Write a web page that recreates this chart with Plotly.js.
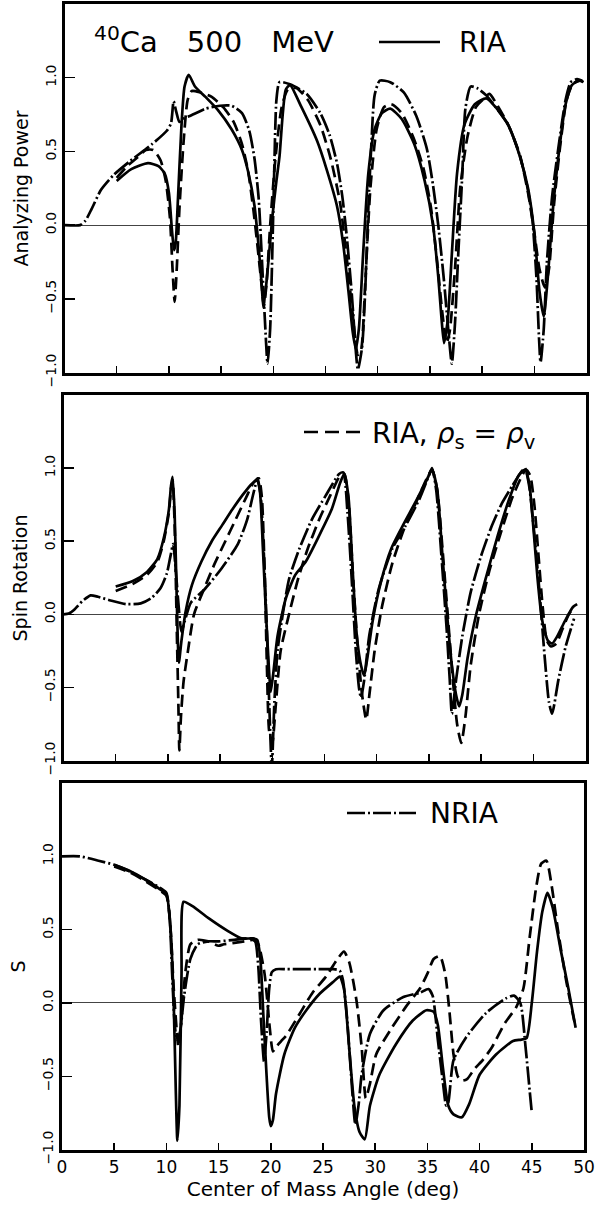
<!DOCTYPE html>
<html><head><meta charset="utf-8">
<script src="https://cdn.plot.ly/plotly-3.0.1.min.js"></script>
<style>html,body{margin:0;padding:0;background:#fff}#chart{width:595px;height:1213px}</style>
</head><body><div id="chart"></div>
<script>
// ---------------- Panel 1: Analyzing Power ----------------
const ap_nria_x = [0,1.5,2,2.6,3.5,4.7,6.2,8.4,9.8,10.2,10.45,10.7,11.0,11.3,12.0,13.5,14.9,16.0,17.0,17.7,18.2,18.6,18.9,19.2,19.45,19.7,19.9,20.1,20.3,20.6,21.6,23.2,24.5,25.4,26.1,26.6,27.0,27.5,27.9,28.1,28.5,28.8,29.1,29.4,29.7,30.2,31.2,32.5,33.7,34.7,35.3,35.8,36.3,36.8,37.1,37.4,37.7,38.1,38.4,38.9,39.5,40.4,41.3,42.5,43.6,44.3,44.8,45.2,45.6,45.9,46.2,46.7,47.3,48.0,48.5,49.1,49.6];
const ap_nria_y = [0,0,0.03,0.11,0.24,0.34,0.43,0.55,0.64,0.69,0.84,0.77,0.70,0.72,0.74,0.79,0.81,0.81,0.76,0.64,0.45,0.18,-0.22,-0.65,-0.94,-0.70,-0.20,0.40,0.85,0.97,0.955,0.89,0.76,0.61,0.42,0.2,-0.05,-0.45,-0.85,-0.98,-0.83,-0.45,0.11,0.56,0.88,0.98,0.97,0.90,0.74,0.52,0.27,0.0,-0.34,-0.74,-0.94,-0.67,-0.22,0.34,0.79,0.94,0.93,0.88,0.80,0.68,0.475,0.27,0.05,-0.35,-0.93,-0.71,-0.26,0.19,0.52,0.85,0.97,0.99,0.98];
const ap_ria_x = [5,6.4,8,9,9.6,10.0,10.3,10.5,10.65,10.85,11.2,11.5,11.9,12.5,13.5,14.7,16.0,17.0,17.6,18.2,18.6,18.9,19.05,19.4,19.9,20.3,20.6,20.9,21.2,21.6,22.7,24.2,25.1,26.1,26.7,27.2,27.6,27.9,28.2,28.6,29.1,29.7,30.4,31.2,32.3,33.5,34.5,35.3,35.8,36.1,36.35,36.7,37.1,37.6,38.3,39.3,40.4,41.3,42.5,43.6,44.4,45.0,45.5,45.9,46.3,46.8,47.4,48.0,48.6,49.3,49.7];
const ap_ria_y = [0.30,0.38,0.42,0.40,0.35,0.22,-0.04,-0.17,-0.12,0.15,0.67,0.94,1.02,0.94,0.87,0.78,0.65,0.51,0.36,0.13,-0.15,-0.42,-0.56,-0.35,0.05,0.30,0.47,0.75,0.92,0.95,0.80,0.57,0.38,0.13,-0.13,-0.45,-0.72,-0.84,-0.70,-0.20,0.35,0.65,0.76,0.79,0.72,0.55,0.30,0.0,-0.35,-0.62,-0.80,-0.65,-0.2,0.35,0.68,0.82,0.86,0.80,0.68,0.47,0.25,-0.05,-0.45,-0.62,-0.35,0.12,0.52,0.82,0.95,0.98,0.97];
const ap_rhos_x = [5,6,7,7.8,8.5,9.2,9.7,10.1,10.35,10.55,10.75,11.0,11.4,11.8,12.2,13,14.1,15.2,16.2,17,17.6,18.1,18.5,18.9,19.1,19.35,19.7,20.2,20.8,21.4,22.2,23.3,24.5,25.5,26.4,27.0,27.6,28.1,28.4,28.8,29.3,29.9,30.6,31.3,32.3,33.5,34.4,35.1,35.7,36.2,36.6,36.9,37.4,37.9,38.6,39.4,40.2,40.7,41.4,42.5,43.6,44.4,45.0,45.5,46.0,46.4,46.9,47.5,48.1,48.7,49.4,49.7];
const ap_rhos_y = [0.32,0.40,0.46,0.51,0.51,0.44,0.30,0.05,-0.30,-0.52,-0.30,0.10,0.56,0.85,0.91,0.90,0.87,0.80,0.70,0.55,0.36,0.10,-0.15,-0.42,-0.55,-0.40,0.0,0.45,0.80,0.92,0.93,0.85,0.68,0.45,0.15,-0.20,-0.60,-0.88,-0.85,-0.40,0.25,0.65,0.80,0.82,0.76,0.58,0.38,0.12,-0.25,-0.60,-0.80,-0.72,-0.30,0.25,0.60,0.80,0.86,0.89,0.82,0.68,0.48,0.22,-0.05,-0.30,-0.42,-0.30,0.15,0.55,0.85,0.96,0.98,0.97];

// ---------------- Panel 2: Spin Rotation ----------------
const sr_nria_x = [0,0.5,1,1.8,2.6,3.3,4.5,6,7.4,8.4,9.3,9.9,10.25,10.5,10.7,11.0,11.3,11.6,12.2,13.5,15.1,16.7,17.6,18.2,18.6,18.9,19.2,19.5,19.75,19.95,20.2,20.5,21.0,21.6,22.6,23.8,25.1,26.4,26.8,27.2,27.6,28.0,28.3,28.5,28.8,29.3,30.2,31.5,32.8,34.1,35.0,35.3,35.7,36.2,36.7,37.0,37.2,37.6,38.2,39.0,40.0,41.0,42.0,43.0,43.8,44.2,44.6,45.1,45.6,46.1,46.5,46.8,47.4,48.1,48.9];
const sr_nria_y = [0,0.005,0.03,0.09,0.13,0.12,0.095,0.07,0.075,0.11,0.18,0.28,0.40,0.48,0.35,0.08,-0.12,-0.05,0.08,0.17,0.31,0.48,0.65,0.83,0.93,0.80,0.40,-0.15,-0.70,-1.05,-0.60,-0.25,0.0,0.24,0.45,0.65,0.81,0.96,0.97,0.70,0.25,-0.25,-0.50,-0.57,-0.45,-0.14,0.175,0.45,0.61,0.79,0.95,1.0,0.85,0.40,-0.10,-0.45,-0.68,-0.45,-0.15,0.15,0.40,0.60,0.76,0.88,0.97,1.0,0.88,0.55,0.15,-0.30,-0.60,-0.68,-0.45,-0.22,-0.03];
const sr_ria_x = [5,6.7,8,9,9.6,10.1,10.3,10.45,10.65,10.85,11.05,11.3,11.7,12.3,13.2,14.2,15.2,16.2,17.2,18.0,18.5,18.8,19.1,19.4,19.7,19.85,20.1,20.5,21.3,22.2,23.2,24.5,25.7,26.5,26.9,27.3,27.7,28.1,28.5,28.8,29.1,29.6,30.4,31.4,32.6,33.8,34.8,35.3,35.8,36.3,36.8,37.2,37.6,37.9,38.2,38.7,39.5,40.5,41.6,42.7,43.6,44.2,44.6,45.0,45.4,45.8,46.1,46.4,46.8,47.3,48.0,48.8,49.2];
const sr_ria_y = [0.19,0.23,0.29,0.38,0.52,0.72,0.88,0.94,0.68,0.10,-0.33,-0.18,0.02,0.20,0.36,0.50,0.61,0.72,0.82,0.89,0.92,0.85,0.45,0.0,-0.40,-0.53,-0.40,-0.15,0.11,0.27,0.36,0.54,0.72,0.90,0.96,0.80,0.30,-0.15,-0.35,-0.42,-0.30,-0.05,0.22,0.45,0.62,0.78,0.92,0.99,0.85,0.40,-0.05,-0.35,-0.55,-0.63,-0.55,-0.30,-0.01,0.26,0.54,0.79,0.95,0.99,0.90,0.60,0.25,-0.02,-0.12,-0.18,-0.20,-0.15,-0.05,0.05,0.07];
const sr_rhos_x = [5,6.7,8,9,9.6,10.1,10.3,10.45,10.65,10.85,11.0,11.1,11.25,11.5,11.9,12.5,13.5,14.5,15.5,16.5,17.5,18.2,18.7,19.0,19.3,19.5,19.7,20.0,20.3,20.8,21.6,22.5,23.4,24.5,25.6,26.5,26.9,27.3,27.7,28.1,28.6,29.0,29.3,29.8,30.5,31.5,32.6,33.8,34.8,35.3,35.8,36.3,36.8,37.3,37.7,38.1,38.5,39.0,39.8,40.8,41.9,43.0,44.0,44.3,44.7,45.1,45.5,45.9,46.3,46.7,47.2,47.8,48.4,48.9];
const sr_rhos_y = [0.16,0.21,0.27,0.36,0.50,0.70,0.86,0.92,0.60,-0.10,-0.60,-0.93,-0.70,-0.46,-0.26,0.0,0.18,0.35,0.50,0.65,0.80,0.90,0.93,0.80,0.20,-0.40,-0.80,-0.88,-0.65,-0.25,0.0,0.25,0.45,0.65,0.82,0.95,0.96,0.78,0.30,-0.15,-0.55,-0.72,-0.55,-0.25,0.05,0.35,0.58,0.77,0.93,0.99,0.85,0.45,0.0,-0.45,-0.75,-0.88,-0.70,-0.35,0.0,0.30,0.56,0.80,0.96,0.99,0.95,0.75,0.40,0.05,-0.18,-0.22,-0.20,-0.10,0.0,0.05];

// ---------------- Panel 3: S ----------------
const s_nria_x = [0,1.7,3.5,5.1,6.7,8.3,9.5,10.0,10.3,10.55,10.8,11.0,11.3,11.7,12.3,13.0,14.0,15.0,16.5,18.0,18.5,18.8,19.05,19.35,19.6,19.85,20.1,20.5,21.5,23,24.5,26.0,26.6,26.9,27.3,27.7,28.1,28.4,28.7,29.5,30.8,32.7,34.3,35.1,35.5,36.0,36.5,36.8,37.0,37.5,38.7,40.6,42.5,43.3,43.9,44.4,44.8,45.0];
const s_nria_y = [1.0,1.0,0.97,0.94,0.89,0.83,0.78,0.75,0.60,0.20,-0.15,-0.25,-0.20,0.05,0.30,0.40,0.42,0.42,0.43,0.44,0.42,0.25,-0.10,-0.40,-0.20,0.10,0.21,0.23,0.23,0.23,0.23,0.23,0.22,0.16,-0.10,-0.50,-0.83,-0.70,-0.49,-0.21,-0.05,0.04,0.07,0.095,0.05,-0.25,-0.55,-0.70,-0.68,-0.39,-0.235,-0.07,0.03,0.05,0.0,-0.30,-0.60,-0.75];
const s_ria_x = [5,6.5,8,9.3,10.0,10.4,10.7,10.9,11.05,11.25,11.45,11.65,12.5,14.0,15.9,17.2,18.3,18.7,19.0,19.3,19.6,19.85,20.0,20.2,20.5,21.3,22.3,23.4,24.7,26.0,26.6,27.0,27.5,28.0,28.5,29.0,29.5,30.4,32.0,33.6,34.9,35.6,36.0,36.5,37.0,37.5,38.3,39.0,40.0,41.6,43.2,44.0,44.5,45.0,45.5,46.0,46.5,47.0,47.8,48.5,49.2];
const s_ria_y = [0.94,0.90,0.84,0.78,0.74,0.50,0.0,-0.60,-0.94,-0.70,0.20,0.69,0.66,0.58,0.49,0.44,0.44,0.43,0.30,-0.10,-0.50,-0.78,-0.84,-0.80,-0.62,-0.35,-0.17,-0.05,0.064,0.145,0.18,0.10,-0.30,-0.70,-0.88,-0.93,-0.70,-0.49,-0.28,-0.12,-0.05,-0.06,-0.15,-0.45,-0.70,-0.76,-0.78,-0.69,-0.49,-0.35,-0.26,-0.25,-0.24,0.0,0.35,0.62,0.75,0.65,0.35,0.10,-0.17];
const s_rhos_x = [5,6.5,8,9.3,10.0,10.4,10.7,11.0,11.15,11.4,11.8,12.3,13.0,14.0,15.0,15.5,16.5,17.5,18.3,18.8,19.4,19.9,20.2,20.5,21.0,21.5,22.8,24.0,25.3,26.3,27.0,27.5,28.2,28.7,29.1,29.5,30.1,31.5,33.0,34.3,35.0,35.6,36.2,36.7,37.1,37.5,37.9,38.3,38.8,39.5,40.3,41.2,42.4,43.5,44.2,44.8,45.4,45.9,46.4,46.9,47.5,48.3,49.2];
const s_rhos_y = [0.93,0.89,0.83,0.77,0.73,0.50,0.10,-0.20,-0.30,-0.15,0.20,0.40,0.43,0.42,0.39,0.40,0.41,0.42,0.43,0.40,0.20,-0.17,-0.33,-0.30,-0.26,-0.22,-0.07,0.07,0.18,0.29,0.35,0.28,0.02,-0.30,-0.65,-0.55,-0.35,-0.18,-0.02,0.10,0.20,0.30,0.32,0.20,-0.05,-0.35,-0.50,-0.53,-0.52,-0.45,-0.39,-0.30,-0.14,-0.03,0.10,0.45,0.78,0.95,0.97,0.80,0.50,0.15,-0.17];

// ---------------- Labels ----------------
const panelTitles = ['Analyzing Power', 'Spin Rotation', 'S'];
const xTitle = 'Center of Mass Angle (deg)';
const yTickVals = [-1, -0.5, 0, 0.5, 1];
const yTickText = ['\u22121.0', '\u22120.5', '0.0', '0.5', '1.0'];
const xTickVals = [0, 5, 10, 15, 20, 25, 30, 35, 40, 45, 50];
const xTickText = ['0', '5', '10', '15', '20', '25', '30', '35', '40', '45', '50'];

const FONT = 'DejaVu Sans, Liberation Sans, sans-serif';
const LW = 2.7;
const SOLID = {color: '#000', width: LW, dash: 'solid', shape: 'spline', smoothing: 0.6};
const DASHED = {color: '#000', width: LW, dash: '12px,6px', shape: 'spline', smoothing: 0.6};
const DASHDOT = {color: '#000', width: LW, dash: '18px,3px,2px,3px', shape: 'spline', smoothing: 0.6};

function tr(x, y, line, ax, name) {
  return {x: x, y: y, type: 'scatter', mode: 'lines', line: line,
          xaxis: 'x' + ax, yaxis: 'y' + ax, name: name, showlegend: false, hoverinfo: 'skip'};
}
const data = [
  tr(ap_nria_x, ap_nria_y, DASHDOT, '', 'NRIA'),
  tr(ap_rhos_x, ap_rhos_y, DASHED, '', 'RIA, ρs = ρv'),
  tr(ap_ria_x, ap_ria_y, SOLID, '', 'RIA'),
  tr(sr_nria_x, sr_nria_y, DASHDOT, '2', 'NRIA'),
  tr(sr_rhos_x, sr_rhos_y, DASHED, '2', 'RIA, ρs = ρv'),
  tr(sr_ria_x, sr_ria_y, SOLID, '2', 'RIA'),
  tr(s_nria_x, s_nria_y, DASHDOT, '3', 'NRIA'),
  tr(s_rhos_x, s_rhos_y, DASHED, '3', 'RIA, ρs = ρv'),
  tr(s_ria_x, s_ria_y, SOLID, '3', 'RIA')
];

function xax(domain, anchor, labels) {
  const a = {domain: domain, anchor: anchor, range: [0, 50], tickmode: 'array',
    tickvals: labels ? xTickVals : xTickVals.slice(1, -1),
    showticklabels: labels, ticks: 'inside', ticklen: 7, tickwidth: 1.5, tickcolor: '#000',
    showline: true, linewidth: 3, linecolor: '#000', mirror: true, showgrid: false, zeroline: false,
    tickfont: {family: FONT, size: 17, color: '#000'}};
  if (labels) {
    a.ticktext = xTickText;
    a.title = {text: xTitle, font: {family: FONT, size: 20, color: '#000'}, standoff: 4};
  }
  return a;
}
function yax(domain, anchor, title) {
  return {domain: domain, anchor: anchor, range: [-1.003, 1.5], tickmode: 'array',
    tickvals: yTickVals, ticktext: yTickText, tickangle: -90,
    ticks: 'inside', ticklen: 10, tickwidth: 1.5, tickcolor: '#000',
    showline: true, linewidth: 3, linecolor: '#000', mirror: true, showgrid: false,
    zeroline: true, zerolinecolor: '#444', zerolinewidth: 1,
    tickfont: {family: FONT, size: 14, color: '#000'},
    title: {text: title, font: {family: FONT, size: 19, color: '#000'}, standoff: 10}};
}

const L = 62, R = 8, T = 4, B = 63, W = 595, H = 1213;
const pw = W - L - R, ph = H - T - B;
const px = v => (v - L) / pw;
const py = v => (H - B - v) / ph;

const layout = {
  width: W, height: H, margin: {l: L, r: R, t: T, b: B},
  paper_bgcolor: '#fff', plot_bgcolor: '#fff', showlegend: false,
  font: {family: FONT, color: '#000'},
  xaxis: xax([px(64.5), px(586.5)], 'y', false),
  yaxis: yax([py(373), py(4)], 'x', panelTitles[0]),
  xaxis2: xax([px(63.5), px(585.5)], 'y2', false),
  yaxis2: yax([py(761), py(395)], 'x2', panelTitles[1]),
  xaxis3: xax([px(62), px(584)], 'y3', true),
  yaxis3: yax([py(1150), py(783)], 'x3', panelTitles[2]),
  shapes: [
    {type: 'line', xref: 'paper', yref: 'paper', x0: px(379), x1: px(440), y0: py(42), y1: py(42), line: {color: '#000', width: LW}},
    {type: 'line', xref: 'paper', yref: 'paper', x0: px(304), x1: px(366), y0: py(432), y1: py(432), line: {color: '#000', width: LW, dash: '14px,7px'}},
    {type: 'line', xref: 'paper', yref: 'paper', x0: px(347), x1: px(416), y0: py(813), y1: py(813), line: {color: '#000', width: LW, dash: '18px,3px,2px,3px'}}
  ],
  annotations: [
    {xref: 'paper', yref: 'paper', x: px(92), y: py(40), xanchor: 'left', yanchor: 'middle', showarrow: false,
     text: '<sup>40</sup>Ca\u2003500\u2003MeV', font: {family: FONT, size: 29, color: '#000'}},
    {xref: 'paper', yref: 'paper', x: px(457), y: py(42), xanchor: 'left', yanchor: 'middle', showarrow: false,
     text: 'RIA', font: {family: FONT, size: 28, color: '#000'}},
    {xref: 'paper', yref: 'paper', x: px(370), y: py(436), xanchor: 'left', yanchor: 'middle', showarrow: false,
     text: 'RIA, <i>ρ</i><sub>s</sub> = <i>ρ</i><sub>v</sub>', font: {family: FONT, size: 28, color: '#000'}},
    {xref: 'paper', yref: 'paper', x: px(428), y: py(813), xanchor: 'left', yanchor: 'middle', showarrow: false,
     text: 'NRIA', font: {family: FONT, size: 28, color: '#000'}}
  ]
};

Plotly.newPlot('chart', data, layout, {staticPlot: true, displayModeBar: false});
</script></body></html>
